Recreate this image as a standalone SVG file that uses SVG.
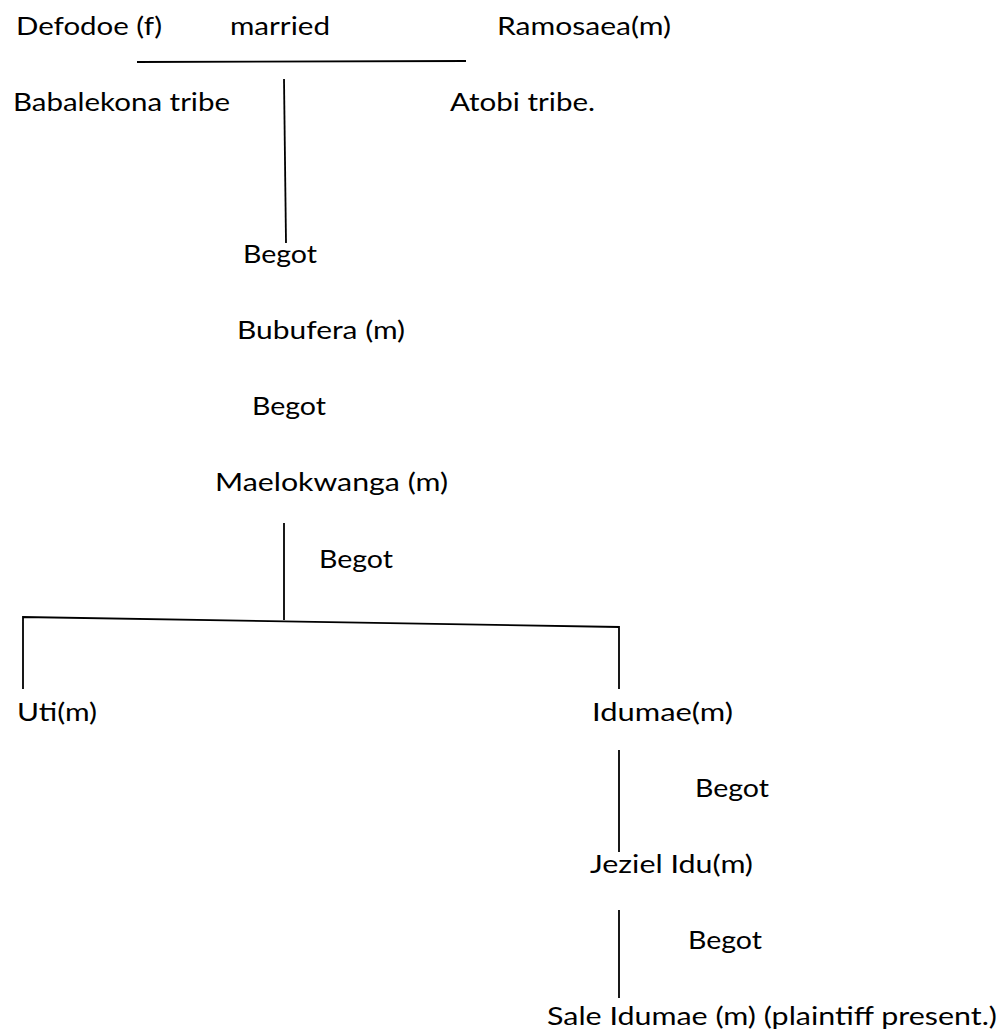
<svg xmlns="http://www.w3.org/2000/svg" width="1005" height="1034" viewBox="0 0 1005 1034">
<style>
.t{font-family:Lato,"Open Sans",sans-serif;font-size:25px;fill:#000}
.c{stroke:#000;stroke-width:1.8;fill:none}
</style>
<rect width="1005" height="1034" fill="#fff"/>
<g id="connectors">
<line class="c" x1="137" y1="62" x2="466" y2="61"/>
<line class="c" x1="284" y1="79" x2="286" y2="243"/>
<line class="c" x1="284" y1="523" x2="284" y2="620"/>
<polyline class="c" points="23,689 23,617 619,627 619,689"/>
<line class="c" x1="619" y1="750" x2="619" y2="852"/>
<line class="c" x1="619" y1="910" x2="619" y2="998"/>
</g>
<g id="defodoe"><text class="t" x="16" y="35" textLength="146" lengthAdjust="spacingAndGlyphs">Defodoe (f)</text></g>
<g id="married"><text class="t" x="230" y="35" textLength="100" lengthAdjust="spacingAndGlyphs">married</text></g>
<g id="ramosaea"><text class="t" x="497" y="35" textLength="174" lengthAdjust="spacingAndGlyphs">Ramosaea(m)</text></g>
<g id="babalekona"><text class="t" x="13" y="111" textLength="217" lengthAdjust="spacingAndGlyphs">Babalekona tribe</text></g>
<g id="atobi"><text class="t" x="450" y="111" textLength="145" lengthAdjust="spacingAndGlyphs">Atobi tribe.</text></g>
<g id="begot1"><text class="t" x="243" y="263" textLength="74" lengthAdjust="spacingAndGlyphs">Begot</text></g>
<g id="bubufera"><text class="t" x="237" y="339" textLength="168" lengthAdjust="spacingAndGlyphs">Bubufera (m)</text></g>
<g id="begot2"><text class="t" x="252" y="415" textLength="74" lengthAdjust="spacingAndGlyphs">Begot</text></g>
<g id="maelokwanga"><text class="t" x="215" y="491" textLength="233" lengthAdjust="spacingAndGlyphs">Maelokwanga (m)</text></g>
<g id="begot3"><text class="t" x="319" y="568" textLength="74" lengthAdjust="spacingAndGlyphs">Begot</text></g>
<g id="uti"><text class="t" x="17" y="721" textLength="80" lengthAdjust="spacingAndGlyphs">Uti(m)</text></g>
<g id="idumae"><text class="t" x="592" y="721" textLength="141" lengthAdjust="spacingAndGlyphs">Idumae(m)</text></g>
<g id="begot4"><text class="t" x="695" y="797" textLength="74" lengthAdjust="spacingAndGlyphs">Begot</text></g>
<g id="jeziel"><text class="t" x="590" y="873" textLength="163" lengthAdjust="spacingAndGlyphs">Jeziel Idu(m)</text></g>
<g id="begot5"><text class="t" x="688" y="949" textLength="74" lengthAdjust="spacingAndGlyphs">Begot</text></g>
<g id="sale"><text class="t" x="547" y="1025" textLength="450" lengthAdjust="spacingAndGlyphs">Sale Idumae (m) (plaintiff present.)</text></g>
</svg>
